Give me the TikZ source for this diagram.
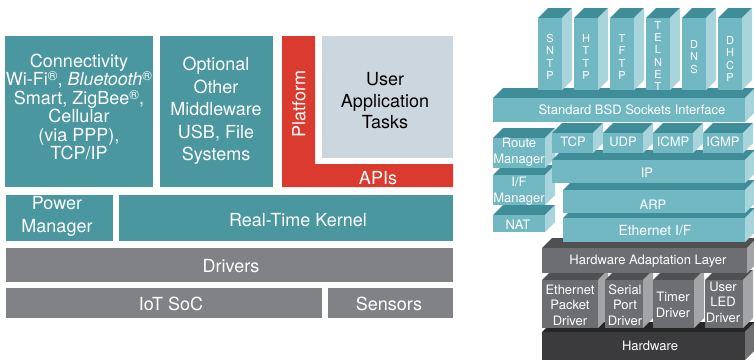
\documentclass[tikz,border=0pt]{standalone}
\usepackage{fontspec}
\setmainfont{TeX Gyre Heros}
\definecolor{tealL}{HTML}{4A979F}
\definecolor{redP}{HTML}{DB3A2F}
\definecolor{grayU}{HTML}{CCD6DF}
\definecolor{grayD}{HTML}{808285}
\definecolor{tF}{HTML}{72B8C3}
\definecolor{tT}{HTML}{3E8D98}
\definecolor{tS}{HTML}{A8D4DB}
\definecolor{gF}{HTML}{6D6E71}
\definecolor{gT}{HTML}{4F5052}
\definecolor{gS}{HTML}{A3A4A6}
\definecolor{kF}{HTML}{3B3B3D}
\definecolor{kT}{HTML}{262627}
\definecolor{kS}{HTML}{707072}
\def\dd{10}
\newcommand{\regmark}{\raisebox{5pt}{\smash{\fontsize{13}{13}\selectfont ®}}}
% x1 y1 x2 y2 front top side
\newcommand{\isobox}[7]{%
  \fill[#6] (#1,#2) -- (#1+\dd,#2-\dd) -- (#3+\dd,#2-\dd) -- (#3,#2) -- cycle;
  \fill[#7] (#3,#2) -- (#3+\dd,#2-\dd) -- (#3+\dd,#4-\dd) -- (#3,#4) -- cycle;
  \fill[#5] (#1,#2) rectangle (#3,#4);
}
\tikzset{
  wtxt/.style={text=white, inner sep=0pt, align=center},
  btxt/.style={text=black, inner sep=0pt, align=center},
  bigf/.style={font=\fontsize{18}{#1}\selectfont},
  midf/.style={font=\fontsize{13}{#1}\selectfont},
  colf/.style={font=\fontsize{11}{12.3}\selectfont},
}
\begin{document}
\begin{tikzpicture}[x=1pt,y=-1pt]
\useasboundingbox (0,0) rectangle (754,362);
\fill[white] (0,0) rectangle (754,362);
\clip (0,0) rectangle (754,362);
% ---------------- left stack ----------------
\fill[tealL] (5,36) rectangle (153,187);
\node[wtxt,bigf=18.4] (conn) at (79,107) {Connectivity\\Wi-Fi\regmark, \textit{Bluetooth}\regmark\\Smart, ZigBee\regmark,\\Cellular\\(via PPP),\\TCP/IP};
\fill[tealL] (160,36) rectangle (273,187);
\node[wtxt,bigf=22.5] (mw) at (216,111) {Optional\\Other\\Middleware\\USB, File\\Systems};
\fill[redP] (282,36) -- (315,36) -- (315,164) -- (453,164) -- (453,187) -- (282,187) -- cycle;
\fill[grayU] (322,36) rectangle (453,158);
\node[btxt,bigf=21.5] (uat) at (385,101) {User\\Application\\Tasks};
\node[wtxt,bigf=18,rotate=90] (plat) at (299,104) {Platform};
\node[wtxt,bigf=18] (apis) at (378,178) {APIs};
\fill[tealL] (6,195) rectangle (113,241);
\node[wtxt,bigf=23] (pm) at (57,216) {Power\\Manager};
\fill[tealL] (119,195) rectangle (453,241);
\node[wtxt,bigf=18] (rtk) at (298,220) {Real-Time Kernel};
\fill[grayD] (6,248) rectangle (453,282);
\node[wtxt,bigf=18] (drv) at (231,266) {Drivers};
\fill[grayD] (6,288) rectangle (322,318);
\node[wtxt,bigf=18] (soc) at (171,304) {IoT SoC};
\fill[grayD] (328,288) rectangle (453,318);
\node[wtxt,bigf=18] (sen) at (389,304) {Sensors};
% ---------------- right stack ----------------
\isobox{542}{332}{745}{360}{kF}{kT}{kS}
\isobox{542}{280}{598}{328}{gF}{gT}{gS}
\isobox{605}{280}{643}{328}{gF}{gT}{gS}
\isobox{653}{280}{694}{328}{gF}{gT}{gS}
\isobox{705}{280}{743}{328}{gF}{gT}{gS}
\isobox{542}{248}{747}{273}{gF}{gT}{gS}
\isobox{563}{218}{745}{242}{tF}{tT}{tS}
\isobox{563}{190}{745}{213}{tF}{tT}{tS}
\isobox{493}{215}{545}{232}{tF}{tT}{tS}
\isobox{493}{175}{545}{205}{tF}{tT}{tS}
\isobox{493}{138}{545}{168}{tF}{tT}{tS}
\isobox{552}{160}{745}{183}{tF}{tT}{tS}
\isobox{552}{133}{593}{153}{tF}{tT}{tS}
\isobox{603}{133}{643}{153}{tF}{tT}{tS}
\isobox{653}{133}{693}{153}{tF}{tT}{tS}
\isobox{703}{133}{743}{153}{tF}{tT}{tS}
\isobox{493}{98}{745}{122}{tF}{tT}{tS}
\isobox{538}{18}{562}{90}{tF}{tT}{tS}
\isobox{574}{18}{598}{90}{tF}{tT}{tS}
\isobox{610}{18}{634}{90}{tF}{tT}{tS}
\isobox{646}{18}{670}{90}{tF}{tT}{tS}
\isobox{682}{18}{706}{90}{tF}{tT}{tS}
\isobox{718}{18}{742}{90}{tF}{tT}{tS}
% texts
\node[wtxt,colf] (sntp) at (550,57) {S\\N\\T\\P};
\node[wtxt,colf] (http) at (586,57) {H\\T\\T\\P};
\node[wtxt,colf] (tftp) at (622,57) {T\\F\\T\\P};
\node[wtxt,colf] (telnet) at (658,56) {T\\E\\L\\N\\E\\T};
\node[wtxt,colf] (dns) at (694,57) {D\\N\\S};
\node[wtxt,colf] (dhcp) at (730,59) {D\\H\\C\\P};
\node[wtxt,midf=15] (bsd) at (632,110) {Standard BSD Sockets Interface};
\node[wtxt,midf=15] (tcp) at (573,142) {TCP};
\node[wtxt,midf=15] (udp) at (623,142) {UDP};
\node[wtxt,midf=15] (icmp) at (673,142) {ICMP};
\node[wtxt,midf=15] (igmp) at (723,142) {IGMP};
\node[wtxt,midf=16.5] (rm) at (519,152) {Route\\Manager};
\node[wtxt,midf=16] (ifm) at (519,191) {I/F\\Manager};
\node[wtxt,midf=15] (nat) at (518,225) {NAT};
\node[wtxt,midf=15] (ip) at (647,173) {IP};
\node[wtxt,midf=15] (arp) at (653,205) {ARP};
\node[wtxt,font=\fontsize{14}{15}\selectfont] (eth) at (655,231) {Ethernet I/F};
\node[wtxt,midf=15] (hal) at (648,261) {Hardware Adaptation Layer};
\node[wtxt,midf=15.5] (epd) at (570,305) {Ethernet\\Packet\\Driver};
\node[wtxt,midf=15.5] (spd) at (625,305) {Serial\\Port\\Driver};
\node[wtxt,midf=15.5] (tmd) at (673,305) {Timer\\Driver};
\node[wtxt,midf=15.5] (led) at (723,302) {User\\LED\\Driver};
\node[wtxt,midf=15] (hw) at (650,346) {Hardware};
\end{tikzpicture}
\end{document}
